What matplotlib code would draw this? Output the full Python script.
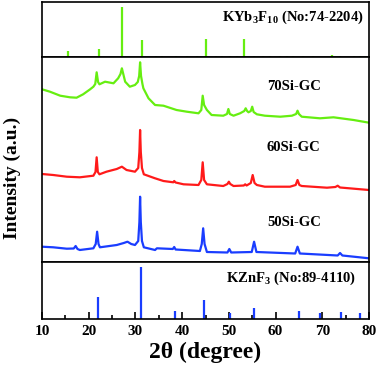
import matplotlib
matplotlib.use("Agg")
import matplotlib.pyplot as plt
from matplotlib.ticker import MultipleLocator

plt.rcParams["font.family"] = ["Liberation Serif", "DejaVu Serif"]
plt.rcParams["font.weight"] = "bold"
plt.rcParams["mathtext.fontset"] = "custom"
plt.rcParams["mathtext.rm"] = "Liberation Serif:bold"
plt.rcParams["mathtext.bf"] = "Liberation Serif:bold"

# reference pattern KYb3F10 (No:74-2204)
kyb_pos = [15.5, 22.1, 27.1, 31.4, 45.0, 53.2, 72.1,
           34.3, 35.6, 38.7, 41.0, 43.1, 47.2, 48.5, 50.3, 51.7, 55.3,
           57.4, 58.8, 61.0, 62.4, 63.7, 65.9, 68.1, 73.8, 76.7, 78.1]
kyb_int = [12, 16, 100, 34, 36, 36, 4,
           3, 3, 3, 3, 3, 3, 3, 3, 3, 3,
           3, 3, 3, 3, 3, 3, 3, 3, 3, 3]

# reference pattern KZnF3 (No:89-4110)
kzn_pos = [21.9, 31.2, 38.5, 44.7, 50.2, 55.3, 65.0, 69.5, 73.9, 78.1]
kzn_int = [42, 100, 15, 37, 12, 21, 15, 12, 13, 12]

# measured patterns (offset already included, arbitrary units)
x70 = [10.0, 11.7, 13.9, 16.0, 17.4, 18.8, 20.3, 21.0, 21.4, 21.7, 22.0, 22.3,
       23.5, 25.3, 26.3, 26.8, 27.1, 27.4, 27.8, 28.8, 29.9, 30.5, 30.8, 31.0,
       31.2, 31.5, 31.7, 32.8, 34.2, 36.0, 38.8, 41.0, 43.5, 44.1, 44.4, 44.7,
       45.3, 46.3, 48.8, 49.6, 49.9, 50.2, 51.0, 52.4, 53.3, 53.6, 53.9, 54.2,
       54.7, 55.0, 55.3, 56.0, 57.7, 61.0, 63.5, 64.4, 64.7, 65.0, 65.6, 69.5,
       72.4, 76.7, 80.0]
y70 = [172.7, 170.3, 166.3, 164.7, 164.3, 167.7, 172.7, 175.3, 178, 189.7, 180, 177.7,
       180.3, 178.7, 183.7, 188, 193.7, 188, 180.3, 175.3, 177, 180, 186, 199.7,
       186, 178, 173.7, 163.7, 157, 156.3, 152, 150.3, 148.7, 152, 166.3, 157,
       152, 147, 146.3, 148, 153, 148, 146.3, 148.7, 151, 153.7, 151, 149.7,
       151, 155.3, 150, 147.7, 146.3, 145.3, 146.3, 148, 151.3, 148, 145.3, 143.7,
       144.7, 142, 139.3]

x60 = [10.0, 12.4, 15.3, 18.1, 21.0, 21.45, 21.7, 21.95, 22.3, 23.8, 26.0, 27.1,
       28.1, 29.9, 30.6, 30.85, 31.0, 31.15, 31.4, 31.8, 34.2, 36.0, 38.1, 38.3,
       38.6, 40.3, 43.5, 44.1, 44.4, 44.7, 45.3, 48.8, 49.7, 50.0, 50.3, 51.0,
       53.2, 53.5, 53.8, 54.7, 55.1, 55.5, 56.0, 57.7, 63.1, 64.3, 64.7, 65.1,
       65.6, 71.0, 72.8, 73.3, 73.8, 80.0]
y60 = [88, 87, 85.3, 84.7, 86.3, 90, 104.7, 90, 87.7, 90.3, 93, 95.3,
       92, 90.3, 94, 110, 132, 110, 94, 87.7, 83.7, 81, 79.7, 81,
       79.5, 77.7, 77, 82, 99.7, 82, 77.7, 76, 78, 80.3, 78, 76,
       76.5, 77.7, 76.5, 79, 87, 79, 77, 75.3, 75.3, 77, 82, 77,
       76, 74.3, 75, 76.3, 74.5, 72]

x50 = [10.0, 12.4, 15.3, 16.8, 17.2, 17.6, 18.1, 21.0, 21.5, 21.8, 22.1, 22.4,
       26.0, 27.5, 28.3, 29.1, 29.9, 30.6, 30.85, 31.0, 31.15, 31.4, 31.8, 34.2,
       34.6, 38.0, 38.3, 38.6, 43.8, 44.2, 44.5, 44.8, 45.3, 49.7, 50.1, 50.5,
       54.9, 55.4, 55.9, 64.2, 64.7, 65.2, 73.3, 73.8, 74.3, 80.0]
y50 = [15.3, 14.7, 13.3, 13.5, 16, 13, 12, 13.7, 18, 30.3, 18, 14.7,
       17, 19, 20.3, 18, 17, 21, 40, 65.3, 40, 21, 14.7, 12,
       13.7, 13, 15, 12.5, 11, 18, 33.7, 18, 10, 9.5, 13, 9.5,
       10, 20.3, 10, 8.5, 15.3, 8.5, 6.5, 9, 6.5, 3.7]

W, H = 379, 374
fig = plt.figure(figsize=(W / 100, H / 100), dpi=100)
left, right = 42 / W, 369 / W


def box(top_px, bot_px):
    return [left, 1 - bot_px / H, right - left, (bot_px - top_px) / H]


ax_top = fig.add_axes(box(2, 57))
ax_mid = fig.add_axes(box(57, 262))
ax_bot = fig.add_axes(box(262, 319))

green, red, blue = "#66ee11", "#ff1a1a", "#1a3dff"

ax_top.vlines(kyb_pos, 0, kyb_int, color=green, lw=1.6)
ax_top.set_ylim(0, 110)
ax_top.text(0.985, 0.72, "KYb$_3$F$_{10}$ (No:74-2204)", transform=ax_top.transAxes,
            ha="right", va="center", fontsize=10.5, fontweight="bold")

ax_mid.plot(x70, y70, color=green, lw=1.6)
ax_mid.plot(x60, y60, color=red, lw=1.6)
ax_mid.plot(x50, y50, color=blue, lw=1.6)
ax_mid.set_ylim(0, 205)
ax_mid.text(0.77, 0.855, "70Si-GC", transform=ax_mid.transAxes, ha="center",
            va="center", fontsize=10.5, fontweight="bold")
ax_mid.text(0.77, 0.56, "60Si-GC", transform=ax_mid.transAxes, ha="center",
            va="center", fontsize=10.5, fontweight="bold")
ax_mid.text(0.77, 0.195, "50Si-GC", transform=ax_mid.transAxes, ha="center",
            va="center", fontsize=10.5, fontweight="bold")

ax_bot.vlines(kzn_pos, 0, kzn_int, color=blue, lw=1.6)
ax_bot.set_ylim(0, 110)
ax_bot.text(0.96, 0.72, "KZnF$_3$ (No:89-4110)", transform=ax_bot.transAxes,
            ha="right", va="center", fontsize=10.5, fontweight="bold")

for ax in (ax_top, ax_mid, ax_bot):
    ax.set_xlim(10, 80)
    ax.set_yticks([])
    for s in ax.spines.values():
        s.set_linewidth(1.2)
    if ax is not ax_bot:
        ax.tick_params(axis="x", which="both", bottom=False, labelbottom=False)

ax_bot.xaxis.set_major_locator(MultipleLocator(10))
ax_bot.xaxis.set_minor_locator(MultipleLocator(5))
ax_bot.tick_params(axis="x", which="major", direction="in", length=5, width=1.2,
                   labelsize=11, pad=4)
ax_bot.tick_params(axis="x", which="minor", direction="in", length=3, width=1.2)
for lab in ax_bot.get_xticklabels():
    lab.set_fontweight("bold")

fig.text(205.5 / W, 1 - 352 / H, "2θ (degree)", ha="center", va="center",
         fontsize=17, fontweight="bold")
fig.text(12 / W, 1 - 178 / H, "Intensity (a.u.)", ha="center", va="center",
         rotation=90, fontsize=14, fontweight="bold")

fig.savefig("out.png", dpi=100)
